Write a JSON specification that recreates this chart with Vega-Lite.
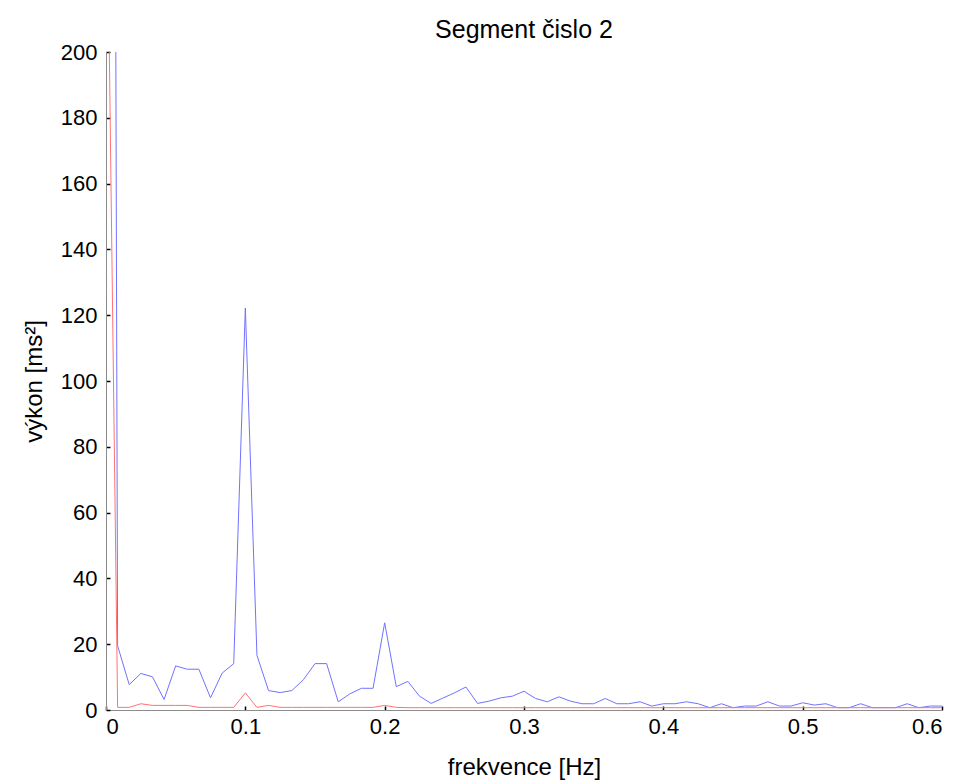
{
  "$schema": "https://vega.github.io/schema/vega-lite/v6.json",
  "autosize": "none",
  "width": 836,
  "height": 658,
  "padding": {"left": 106, "top": 52, "right": 21, "bottom": 71},
  "background": "white",
  "config": {
    "view": {"stroke": null},
    "font": "Liberation Sans",
    "axis": {
      "labelFont": "Liberation Sans",
      "titleFont": "Liberation Sans",
      "labelFontSize": 22,
      "titleFontSize": 24,
      "titleFontWeight": "normal",
      "labelColor": "black",
      "titleColor": "black",
      "domainColor": "#8c8c8c",
      "domainWidth": 1,
      "tickColor": "black",
      "tickWidth": 1.5,
      "tickSize": -4,
      "grid": false
    }
  },
  "title": {
    "text": "Segment čislo 2",
    "font": "Liberation Sans",
    "fontSize": 25,
    "fontWeight": "normal",
    "color": "black",
    "anchor": "middle",
    "frame": "group",
    "offset": -2
  },
  "data": {
    "values": [
      {"f": 0, "blue": 1200, "red": 280},
      {"f": 0.008333, "blue": 19.5, "red": 0.8},
      {"f": 0.016667, "blue": 7.7, "red": 0.8},
      {"f": 0.025, "blue": 11.1, "red": 1.9},
      {"f": 0.033333, "blue": 10.1, "red": 1.4},
      {"f": 0.041667, "blue": 3.2, "red": 1.4},
      {"f": 0.05, "blue": 13.4, "red": 1.4},
      {"f": 0.058333, "blue": 12.4, "red": 1.4},
      {"f": 0.066667, "blue": 12.4, "red": 0.8},
      {"f": 0.075, "blue": 3.7, "red": 0.8},
      {"f": 0.083333, "blue": 11.2, "red": 0.8},
      {"f": 0.091667, "blue": 14.1, "red": 0.8},
      {"f": 0.1, "blue": 122.2, "red": 5.2},
      {"f": 0.108333, "blue": 16.6, "red": 0.8},
      {"f": 0.116667, "blue": 5.9, "red": 1.4},
      {"f": 0.125, "blue": 5.3, "red": 0.8},
      {"f": 0.133333, "blue": 5.9, "red": 0.8},
      {"f": 0.141667, "blue": 9.2, "red": 0.8},
      {"f": 0.15, "blue": 14.1, "red": 0.8},
      {"f": 0.158333, "blue": 14.1, "red": 0.8},
      {"f": 0.166667, "blue": 2.5, "red": 0.8},
      {"f": 0.175, "blue": 4.9, "red": 0.8},
      {"f": 0.183333, "blue": 6.6, "red": 0.8},
      {"f": 0.191667, "blue": 6.6, "red": 0.8},
      {"f": 0.2, "blue": 26.5, "red": 1.4},
      {"f": 0.208333, "blue": 7.1, "red": 0.8},
      {"f": 0.216667, "blue": 8.7, "red": 0.7},
      {"f": 0.225, "blue": 4.2, "red": 0.7},
      {"f": 0.233333, "blue": 2.0, "red": 0.7},
      {"f": 0.241667, "blue": 3.6, "red": 0.7},
      {"f": 0.25, "blue": 5.2, "red": 0.7},
      {"f": 0.258333, "blue": 7.0, "red": 0.7},
      {"f": 0.266667, "blue": 2.0, "red": 0.7},
      {"f": 0.275, "blue": 2.7, "red": 0.7},
      {"f": 0.283333, "blue": 3.7, "red": 0.7},
      {"f": 0.291667, "blue": 4.2, "red": 0.7},
      {"f": 0.3, "blue": 5.7, "red": 0.7},
      {"f": 0.308333, "blue": 3.5, "red": 0.7},
      {"f": 0.316667, "blue": 2.5, "red": 0.7},
      {"f": 0.325, "blue": 4.0, "red": 0.7},
      {"f": 0.333333, "blue": 2.7, "red": 0.7},
      {"f": 0.341667, "blue": 1.9, "red": 0.7},
      {"f": 0.35, "blue": 1.9, "red": 0.7},
      {"f": 0.358333, "blue": 3.5, "red": 0.7},
      {"f": 0.366667, "blue": 1.9, "red": 0.7},
      {"f": 0.375, "blue": 1.9, "red": 0.7},
      {"f": 0.383333, "blue": 2.5, "red": 0.7},
      {"f": 0.391667, "blue": 1.2, "red": 0.7},
      {"f": 0.4, "blue": 1.9, "red": 0.7},
      {"f": 0.408333, "blue": 1.9, "red": 0.7},
      {"f": 0.416667, "blue": 2.5, "red": 0.7},
      {"f": 0.425, "blue": 1.9, "red": 0.7},
      {"f": 0.433333, "blue": 0.7, "red": 0.7},
      {"f": 0.441667, "blue": 1.9, "red": 0.7},
      {"f": 0.45, "blue": 0.7, "red": 0.7},
      {"f": 0.458333, "blue": 1.2, "red": 0.7},
      {"f": 0.466667, "blue": 1.2, "red": 0.7},
      {"f": 0.475, "blue": 2.5, "red": 0.7},
      {"f": 0.483333, "blue": 1.2, "red": 0.7},
      {"f": 0.491667, "blue": 1.2, "red": 0.7},
      {"f": 0.5, "blue": 2.2, "red": 0.7},
      {"f": 0.508333, "blue": 1.5, "red": 0.7},
      {"f": 0.516667, "blue": 1.9, "red": 0.7},
      {"f": 0.525, "blue": 0.7, "red": 0.7},
      {"f": 0.533333, "blue": 0.7, "red": 0.7},
      {"f": 0.541667, "blue": 1.9, "red": 0.7},
      {"f": 0.55, "blue": 0.7, "red": 0.7},
      {"f": 0.558333, "blue": 0.7, "red": 0.7},
      {"f": 0.566667, "blue": 0.7, "red": 0.7},
      {"f": 0.575, "blue": 1.9, "red": 0.7},
      {"f": 0.583333, "blue": 0.7, "red": 0.7},
      {"f": 0.591667, "blue": 1.2, "red": 0.7},
      {"f": 0.6, "blue": 1.2, "red": 0.7}
    ]
  },
  "transform": [
    {"fold": ["blue", "red"], "as": ["series", "power"]}
  ],
  "mark": {"type": "line", "clip": true, "strokeWidth": 1, "interpolate": "linear"},
  "encoding": {
    "x": {
      "field": "f",
      "type": "quantitative",
      "scale": {"domain": [0, 0.6], "nice": false, "zero": false},
      "axis": {
        "title": "frekvence [Hz]",
        "values": [0, 0.1, 0.2, 0.3, 0.4, 0.5, 0.6],
        "format": "~g",
        "labelPadding": 10,
        "titlePadding": 18
      }
    },
    "y": {
      "field": "power",
      "type": "quantitative",
      "scale": {"domain": [0, 200], "nice": false},
      "axis": {
        "title": "výkon [ms²]",
        "values": [0, 20, 40, 60, 80, 100, 120, 140, 160, 180, 200],
        "labelPadding": 13,
        "titlePadding": 14
      }
    },
    "color": {
      "field": "series",
      "type": "nominal",
      "scale": {"domain": ["blue", "red"], "range": ["#7272ff", "#ff7272"]},
      "legend": null
    }
  }
}
